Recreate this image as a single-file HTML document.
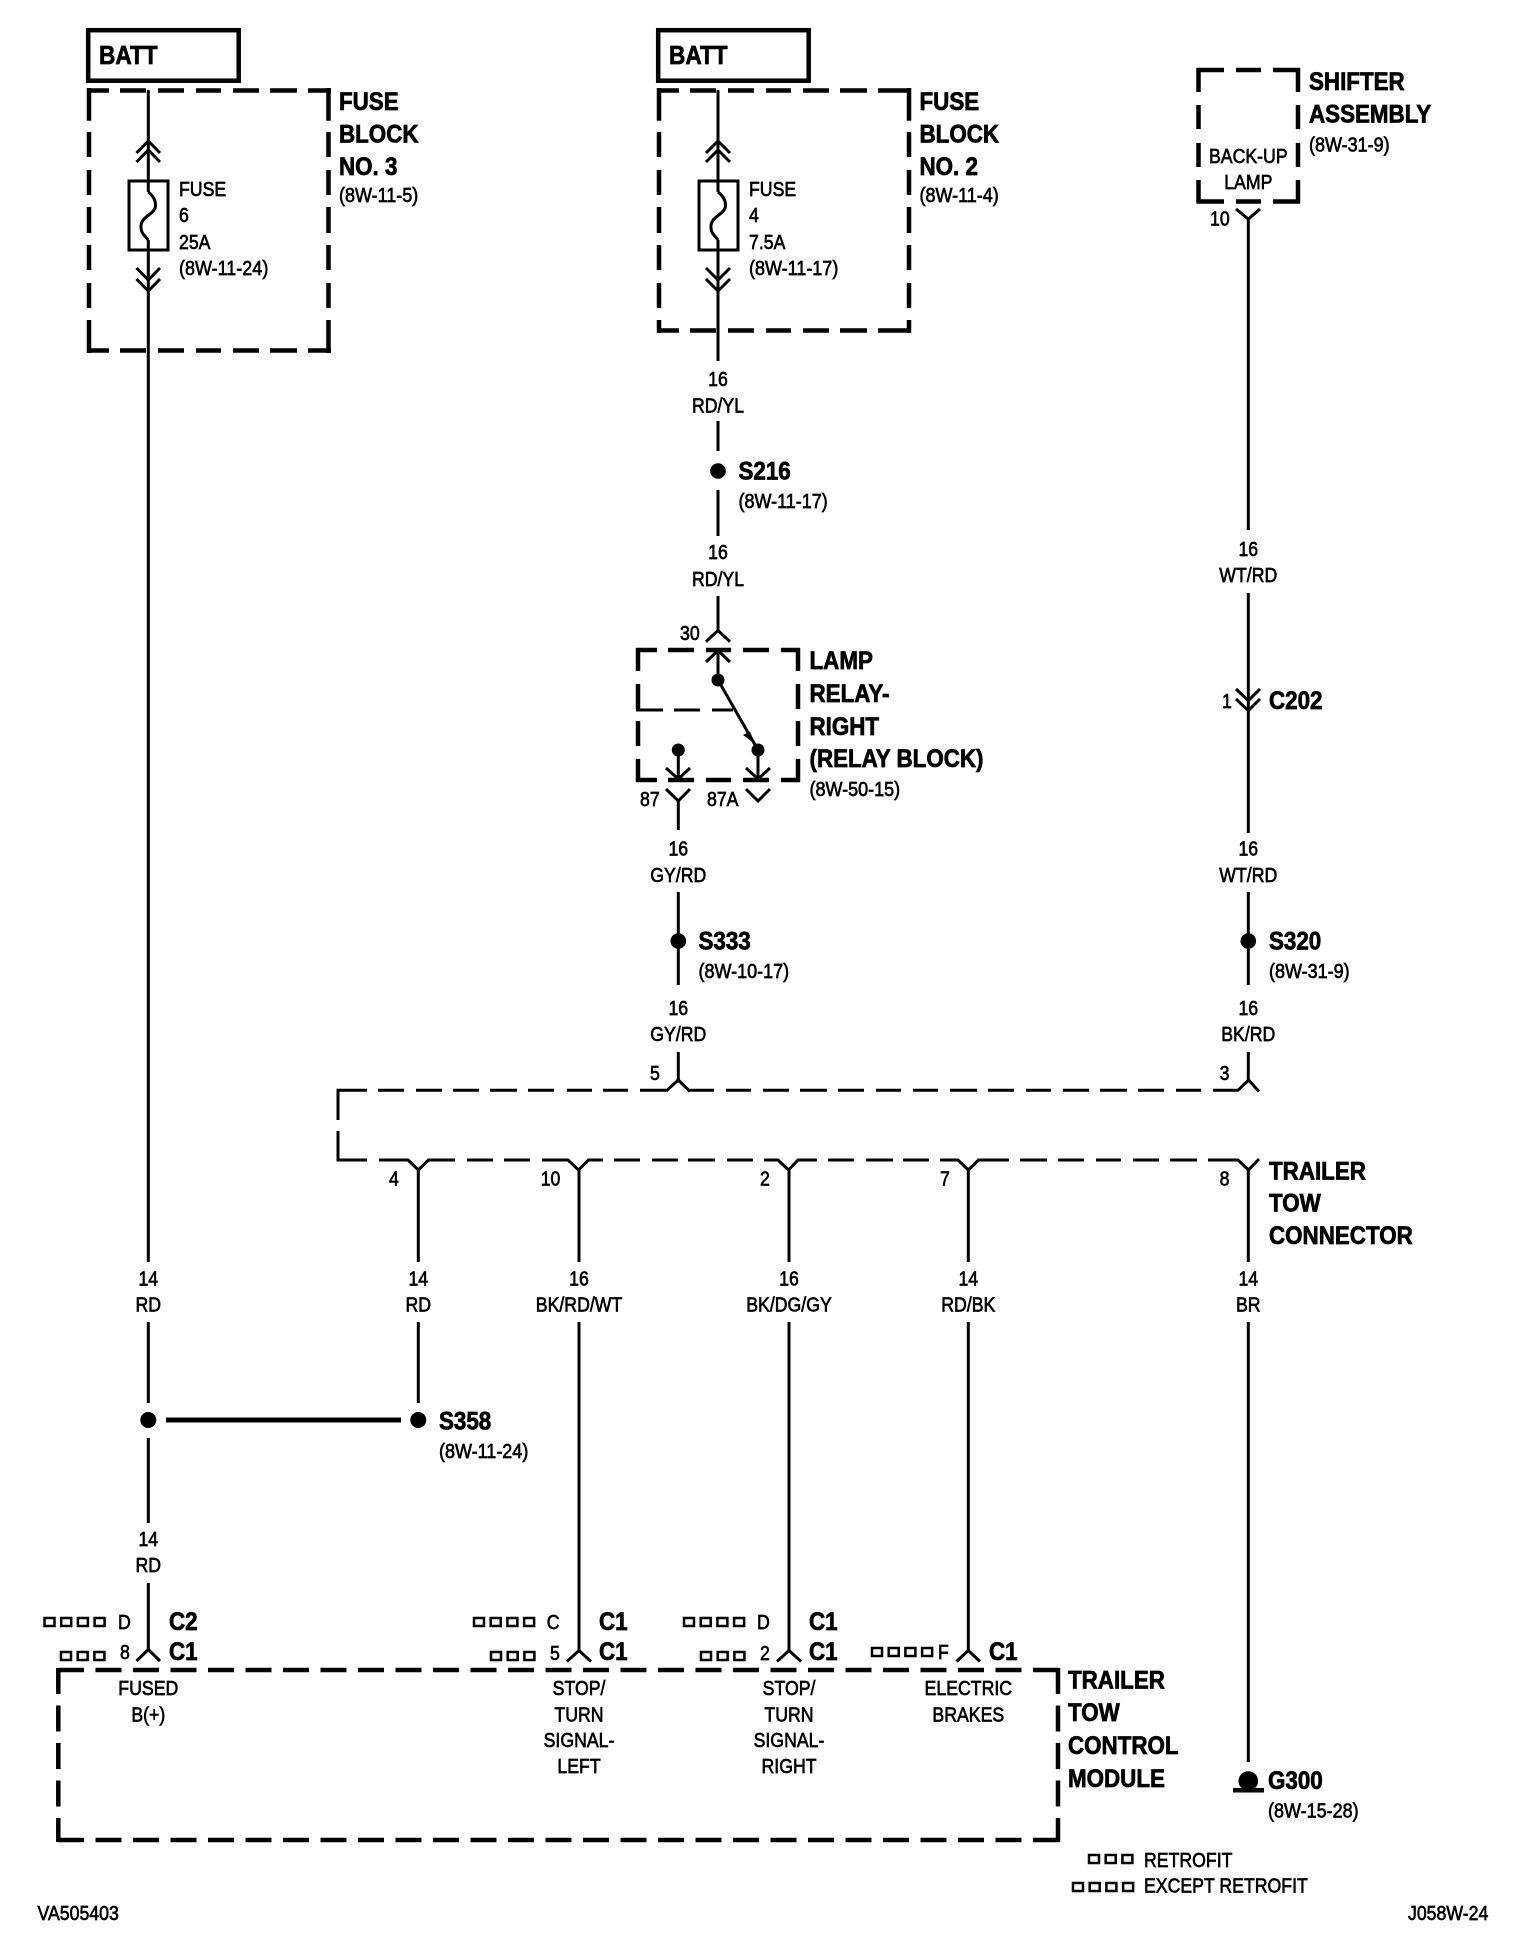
<!DOCTYPE html>
<html><head><meta charset="utf-8"><title>Trailer Tow Wiring Diagram</title>
<style>
html,body{margin:0;padding:0;background:#fff;width:1536px;height:1954px;overflow:hidden}
svg{display:block}
text{font-family:"Liberation Sans",Arial,sans-serif;fill:#000;transform-box:fill-box;transform-origin:0 50%}
.h{font-size:25px;font-weight:bold;stroke:#000;stroke-width:.75;transform:scaleX(.895)}
.b{font-size:26px;font-weight:bold;stroke:#000;stroke-width:.75;transform:scaleX(.87)}
.t{font-size:20px;stroke:#000;stroke-width:.65;transform:scaleX(.885)}
.p{font-size:20px;stroke:#000;stroke-width:.65;transform:scaleX(.9)}
.m{text-anchor:middle;transform-origin:50% 50%}
</style></head><body>
<svg xmlns="http://www.w3.org/2000/svg" width="1536" height="1954" viewBox="0 0 1536 1954">
<rect width="1536" height="1954" fill="#fff"/>

<!-- BATT boxes -->
<g fill="none" stroke="#000" stroke-width="4.5">
<rect x="88.2" y="30.2" width="150.5" height="50.5"/>
<rect x="658.2" y="30.2" width="150.5" height="50.5"/>
</g>

<!-- heavy dashed boxes -->
<g fill="none" stroke="#000" stroke-width="4.5">
<!-- fuse block 3 -->
<path d="M87 90.5H109M120 90.5H146M158 90.5H184M196 90.5H221M233 90.5H259M270 90.5H297M308 90.5H331M87 350.5H109M120 350.5H146M158 350.5H184M196 350.5H221M233 350.5H259M270 350.5H297M308 350.5H331M89 88V120.7M89 132V157M89 170V195M89 207V233M89 245V270M89 283V308M89 320V353M328.5 88V120.7M328.5 132V157M328.5 170V195M328.5 207V233M328.5 245V270M328.5 283V308M328.5 320V353"/>
<!-- fuse block 2 -->
<path d="M657 90.5H679M690 90.5H716M728 90.5H754M766 90.5H791M803 90.5H829M840 90.5H867M878 90.5H911M657 330.5H679M690 330.5H716M728 330.5H754M766 330.5H791M803 330.5H829M840 330.5H867M878 330.5H911M659 88V120.7M659 132V157M659 170V195M659 207V233M659 245V270M659 283V308M659 320V333M909 88V120.7M909 132V157M909 170V195M909 207V233M909 245V270M909 283V308M909 320V333"/>
<!-- shifter -->
<path d="M1197 70H1224M1236 70H1261M1273 70H1300M1197 201.5H1224M1236 201.5H1261M1273 201.5H1300M1198.5 68V92M1198.5 105V129M1198.5 143V167M1198.5 180V203.5M1298 68V92M1298 105V129M1298 143V167M1298 180V203.5"/>
<!-- relay -->
<path d="M636 650H657M668 650H694M706 650H731M743 650H769M781 650H800M636 780H657M668 780H694M706 780H731M743 780H769M781 780H800M638 648V671M638 684V709M638 721V746M638 759V782M798 648V671M798 684V709M798 721V746M798 759V782"/>
<!-- module -->
<path d="M58 1670H1060M58 1840H1060" stroke-dasharray="26 11.5"/>
<path d="M58.3 1668V1842M1058 1668V1842" stroke-dasharray="26 11.5"/>
</g>

<!-- thin dashed trailer tow connector -->
<path fill="none" stroke="#000" stroke-width="3" d="M338 1120V1090.3H367M378 1090.3H404M416 1090.3H442M453 1090.3H479M490 1090.3H517M528 1090.3H554M567 1090.3H592M603 1090.3H628M640 1090.3H667L678.3 1080L690 1091.5M688 1090.3H714M726 1090.3H751M763 1090.3H789M800 1090.3H827M838 1090.3H864M876 1090.3H901M913 1090.3H938M950 1090.3H977M988 1090.3H1014M1026 1090.3H1051M1063 1090.3H1089M1100 1090.3H1127M1138 1090.3H1164M1176 1090.3H1201M1213 1090.3H1238L1248.5 1080L1259 1091.5M338 1131V1160H367M379 1160H408L418.3 1170L428.5 1160H455M467 1160H493M504 1160H530M542 1160H568L578.5 1170L588.5 1160H603M614 1160H640M652 1160H678M688 1160H715M727 1160H753M764 1160H778L788.5 1170L798 1160H817M828 1160H854M866 1160H893M903 1160H929M940 1160H958L968.3 1170L978.6 1160H1009M1020 1160H1047M1058 1160H1084M1096 1160H1121M1133 1160H1159M1170 1160H1197M1208 1160H1238L1248.5 1170L1259 1159"/>

<!-- wires & connectors -->
<g fill="none" stroke="#000" stroke-width="3">
<!-- A -->
<path d="M148.3 90V192M148.3 240V1262M148.3 1322V1403M148.3 1438V1523M148.3 1583V1649"/>
<path d="M136.5 153L148.3 141L160 153M136.5 162L148.3 150L160 162M136.5 268L148.3 280L160 268M136.5 279L148.3 291L160 279"/>
<rect x="129" y="181" width="39" height="69"/>
<path d="M148.3 192C156 198 157 206 154 210C150 216 140 218 141 228C141 233 145 236 148.3 240"/>
<!-- B -->
<path d="M718 90V192M718 240V361M718 421V451M718 490V536M718 596V630M718 650V680"/>
<path d="M706 153L718 141L730 153M706 162L718 150L730 162M706 268L718 280L730 268M706 279L718 291L730 279"/>
<rect x="699" y="181" width="39" height="69"/>
<path d="M718 192C726 198 727 206 724 210C720 216 710 218 711 228C711 233 715 236 718 240"/>
<path d="M706 641.7L718 630.5L730 641.7M706 662L718 650.5L730 662"/>
<!-- relay internals -->
<path d="M718 680L758 750M678.3 750V778M758 750V778M666 768L678.3 779L690 768M746 768L758 779L770 768M666 789L678.3 801L690 789M746 789L758 801L770 789M678.3 801V830"/>
<path d="M636 710H663M674 710H700M712 710H733"/>
<!-- C -->
<path d="M678.3 892V985M678.3 1052V1080"/>
<!-- D -->
<path d="M1236 209L1248.3 219L1260 209M1248.3 219V530M1248.3 593V711M1236 689L1248.3 700.7L1260 689M1236 699L1248.3 710.7L1260 699M1248.3 711V833M1248.3 892V985M1248.3 1052V1080M1248.3 1170V1262M1248.3 1322V1762"/>
<!-- drops -->
<path d="M418.3 1170V1262M418.3 1322V1403M579 1170V1262M579 1322V1651M789 1170V1262M789 1322V1651M968.3 1170V1262M968.3 1322V1651"/>
<path d="M136.5 1661L148.3 1649.5L160 1661M567 1661.5L579 1650.5L591 1661.5M777 1661.5L789 1650.5L801 1661.5M956.5 1661.5L968.3 1650.5L980 1661.5"/>
</g>
<path fill="none" stroke="#000" stroke-width="5" d="M166 1420H401"/>

<!-- dots -->
<g fill="#000">
<circle cx="718" cy="471" r="7.8"/>
<circle cx="678.3" cy="941" r="7.8"/>
<circle cx="1248.3" cy="941" r="7.8"/>
<circle cx="148.3" cy="1420" r="8"/>
<circle cx="418.3" cy="1420" r="8"/>
<circle cx="718" cy="680" r="6.5"/>
<circle cx="678.3" cy="750" r="6.5"/>
<circle cx="758" cy="750" r="6.5"/>
<polygon points="755,744 743,735 750,731.5"/>
<circle cx="1248.3" cy="1781" r="9.8"/>
<rect x="1233" y="1788" width="31" height="4.5"/>
</g>

<!-- little squares -->
<g fill="none" stroke="#000" stroke-width="2.5">
<path d="M44.5 1618h10v8h-10zM61.2 1618h10v8h-10zM77.9 1618h10v8h-10zM94.6 1618h10v8h-10zM61 1652h10v8h-10zM77.7 1652h10v8h-10zM94.4 1652h10v8h-10z"/>
<path d="M474 1618h10v8h-10zM490.7 1618h10v8h-10zM507.4 1618h10v8h-10zM524.1 1618h10v8h-10zM491 1652h10v8h-10zM507.7 1652h10v8h-10zM524.4 1652h10v8h-10z"/>
<path d="M684 1618h10v8h-10zM700.7 1618h10v8h-10zM717.4 1618h10v8h-10zM734.1 1618h10v8h-10zM701 1652h10v8h-10zM717.7 1652h10v8h-10zM734.4 1652h10v8h-10z"/>
<path d="M872 1648h10v8h-10zM888.7 1648h10v8h-10zM905.4 1648h10v8h-10zM922.1 1648h10v8h-10z"/>
<path d="M1089 1855h10v8h-10zM1105.7 1855h10v8h-10zM1122.4 1855h10v8h-10zM1073 1883h10v8h-10zM1089.7 1883h10v8h-10zM1106.4 1883h10v8h-10zM1123.1 1883h10v8h-10z"/>
</g>

<!-- heading text -->
<text class="b" x="99" y="64">BATT</text>
<text class="b" x="669" y="64">BATT</text>
<text class="h" x="339" y="110">FUSE</text>
<text class="h" x="339" y="142.7">BLOCK</text>
<text class="h" x="339" y="175">NO. 3</text>
<text class="h" x="919.5" y="110">FUSE</text>
<text class="h" x="919.5" y="142.7">BLOCK</text>
<text class="h" x="919.5" y="175">NO. 2</text>
<text class="h" x="1309" y="90">SHIFTER</text>
<text class="h" x="1309" y="122.7">ASSEMBLY</text>
<text class="h" x="738.5" y="479.5">S216</text>
<text class="h" x="809.5" y="669">LAMP</text>
<text class="h" x="809.5" y="702">RELAY-</text>
<text class="h" x="809.5" y="735">RIGHT</text>
<text class="h" x="809.5" y="767">(RELAY BLOCK)</text>
<text class="h" x="1269" y="709">C202</text>
<text class="h" x="698.5" y="949.5">S333</text>
<text class="h" x="1269" y="949.5">S320</text>
<text class="h" x="1269" y="1179.5">TRAILER</text>
<text class="h" x="1269" y="1211.5">TOW</text>
<text class="h" x="1269" y="1244">CONNECTOR</text>
<text class="h" x="439" y="1429.7">S358</text>
<text class="h" x="169" y="1630">C2</text>
<text class="h" x="169" y="1660">C1</text>
<text class="h" x="599" y="1630">C1</text>
<text class="h" x="599" y="1660">C1</text>
<text class="h" x="809" y="1630">C1</text>
<text class="h" x="809" y="1660">C1</text>
<text class="h" x="989" y="1660">C1</text>
<text class="h" x="1068" y="1688.7">TRAILER</text>
<text class="h" x="1068" y="1721">TOW</text>
<text class="h" x="1068" y="1754">CONTROL</text>
<text class="h" x="1068" y="1787">MODULE</text>
<text class="h" x="1268" y="1789">G300</text>

<!-- small text -->
<text class="p" x="339" y="202">(8W-11-5)</text>
<text class="t" x="179" y="196">FUSE</text>
<text class="t" x="179" y="222">6</text>
<text class="t" x="179" y="249">25A</text>
<text class="p" x="179" y="275">(8W-11-24)</text>
<text class="p" x="919.5" y="202">(8W-11-4)</text>
<text class="t" x="749" y="196">FUSE</text>
<text class="t" x="749" y="222">4</text>
<text class="t" x="749" y="249">7.5A</text>
<text class="p" x="749" y="275">(8W-11-17)</text>
<text class="p" x="1309" y="151.7">(8W-31-9)</text>
<text class="t m" x="1248.3" y="163">BACK-UP</text>
<text class="t m" x="1248.3" y="189">LAMP</text>
<text class="t" x="1210" y="225.7">10</text>
<text class="t m" x="718" y="386">16</text>
<text class="t m" x="718" y="412.5">RD/YL</text>
<text class="p" x="738.5" y="508">(8W-11-17)</text>
<text class="t m" x="718" y="559">16</text>
<text class="t m" x="718" y="586">RD/YL</text>
<text class="t" x="680" y="640">30</text>
<text class="t" x="640" y="806">87</text>
<text class="t" x="707" y="806">87A</text>
<text class="p" x="809.5" y="796">(8W-50-15)</text>
<text class="t m" x="1248.3" y="556">16</text>
<text class="t m" x="1248.3" y="582">WT/RD</text>
<text class="t" x="1222" y="708">1</text>
<text class="t m" x="678.3" y="855.6">16</text>
<text class="t m" x="678.3" y="882">GY/RD</text>
<text class="p" x="698.5" y="978">(8W-10-17)</text>
<text class="t m" x="678.3" y="1015">16</text>
<text class="t m" x="678.3" y="1041">GY/RD</text>
<text class="t m" x="1248.3" y="855.6">16</text>
<text class="t m" x="1248.3" y="882">WT/RD</text>
<text class="p" x="1269" y="978">(8W-31-9)</text>
<text class="t m" x="1248.3" y="1015">16</text>
<text class="t m" x="1248.3" y="1041">BK/RD</text>
<text class="t" x="650" y="1080">5</text>
<text class="t" x="1219.6" y="1080">3</text>
<text class="t" x="389" y="1185.7">4</text>
<text class="t" x="540.7" y="1185.7">10</text>
<text class="t" x="760" y="1185.7">2</text>
<text class="t" x="940" y="1185.7">7</text>
<text class="t" x="1219.6" y="1185.7">8</text>
<text class="t m" x="148.3" y="1285.5">14</text>
<text class="t m" x="148.3" y="1311.7">RD</text>
<text class="t m" x="418.3" y="1285.5">14</text>
<text class="t m" x="418.3" y="1311.7">RD</text>
<text class="t m" x="579" y="1285.5">16</text>
<text class="t m" x="579" y="1311.7">BK/RD/WT</text>
<text class="t m" x="789" y="1285.5">16</text>
<text class="t m" x="789" y="1311.7">BK/DG/GY</text>
<text class="t m" x="968.3" y="1285.5">14</text>
<text class="t m" x="968.3" y="1311.7">RD/BK</text>
<text class="t m" x="1248.3" y="1285.5">14</text>
<text class="t m" x="1248.3" y="1311.7">BR</text>
<text class="p" x="439" y="1458">(8W-11-24)</text>
<text class="t m" x="148.3" y="1546">14</text>
<text class="t m" x="148.3" y="1572">RD</text>
<text class="t" x="118" y="1629">D</text>
<text class="t" x="120" y="1659">8</text>
<text class="t" x="546.7" y="1629">C</text>
<text class="t" x="550" y="1660">5</text>
<text class="t" x="757" y="1629">D</text>
<text class="t" x="760" y="1660">2</text>
<text class="t" x="938" y="1659">F</text>
<text class="t m" x="148.3" y="1695">FUSED</text>
<text class="t m" x="148.3" y="1721.7">B(+)</text>
<text class="t m" x="579" y="1695">STOP/</text>
<text class="t m" x="579" y="1721.7">TURN</text>
<text class="t m" x="579" y="1747">SIGNAL-</text>
<text class="t m" x="579" y="1773">LEFT</text>
<text class="t m" x="789" y="1695">STOP/</text>
<text class="t m" x="789" y="1721.7">TURN</text>
<text class="t m" x="789" y="1747">SIGNAL-</text>
<text class="t m" x="789" y="1773">RIGHT</text>
<text class="t m" x="968.3" y="1695">ELECTRIC</text>
<text class="t m" x="968.3" y="1721.7">BRAKES</text>
<text class="p" x="1268" y="1817.7">(8W-15-28)</text>
<text class="t" x="1144" y="1867">RETROFIT</text>
<text class="t" x="1144" y="1892.5">EXCEPT RETROFIT</text>
<text class="t" x="37.5" y="1920">VA505403</text>
<text class="t" x="1408" y="1920">J058W-24</text>
</svg>
</body></html>
